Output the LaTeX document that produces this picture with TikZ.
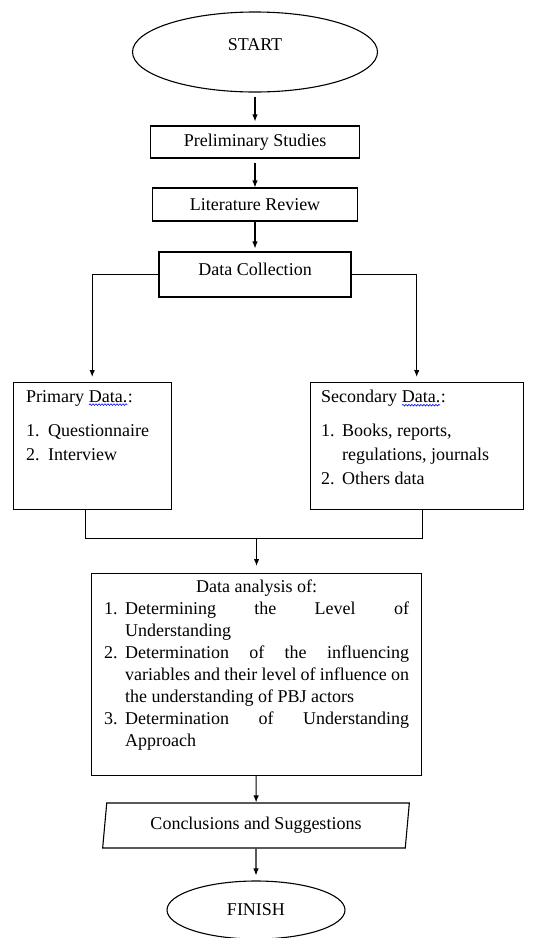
\documentclass[tikz,border=0pt]{standalone}
\usepackage{fontspec}
\setmainfont{Liberation Serif}
\usetikzlibrary{shapes.geometric,positioning,decorations.pathmorphing,arrows.meta}

% blue wavy mark under a word
\newcommand{\spellwave}[1]{\tikz[baseline=(sw.base)]{\node[inner sep=0pt, outer sep=0pt] (sw) {#1};
  \draw[blue, line width=0.6pt, decorate, decoration={snake, amplitude=0.8pt, segment length=3pt}]
    ([yshift=-2.5pt]sw.base west) -- ([yshift=-2.5pt]sw.base east);}}

\begin{document}
\begin{tikzpicture}[x=1pt, y=-1pt, >={Latex[length=7pt,width=5.5pt]}, line width=1.1pt,
  font=\fontsize{18}{22}\selectfont,
  box/.style={draw, rectangle, inner sep=0pt},
  terminal/.style={draw, ellipse, inner sep=0pt},
  io/.style={draw, trapezium, trapezium left angle=80, trapezium right angle=100,
    trapezium stretches=true, inner sep=0pt}]
\clip (0,0) rectangle (554,938);

% Start
\node[terminal, minimum width=245pt, minimum height=80pt, text depth=15pt] (start) at (255,52) {START};
% Studies
\node[box, minimum width=209pt, minimum height=32pt] (prelim) at (255,142) {Preliminary Studies};
\node[box, minimum width=205pt, minimum height=33pt] (litrev) at (255,204.5) {Literature Review};
% Collection
\node[box, minimum width=192pt, minimum height=45pt, text depth=11pt] (collect) at (255,274.5) {Data Collection};

% Data sources
\node[box, anchor=north west, inner xsep=13pt, inner ysep=8pt] (primary) at (13,382) {%
  \begin{minipage}[t][111pt][t]{132pt}\fontsize{18}{24}\selectfont
  Primary \spellwave{Data.}:\par\vspace{10pt}
  \makebox[22pt][l]{1.}Questionnaire\par
  \makebox[22pt][l]{2.}Interview
  \end{minipage}};
\node[box, anchor=north west, inner xsep=11pt, inner ysep=8pt] (secondary) at (310,382) {%
  \begin{minipage}[t][111pt][t]{191pt}\fontsize{18}{24}\selectfont
  Secondary \spellwave{Data.}:\par\vspace{10pt}
  \hangindent=21pt\hangafter=1\makebox[21pt][l]{1.}Books, reports,\\regulations, journals\par
  \makebox[21pt][l]{2.}Others data
  \end{minipage}};

% Analysis
\node[box, anchor=north west, minimum width=330pt, inner ysep=6pt] (analysis) at (91,573) {%
  \begin{minipage}[t][190pt][t]{305pt}
  {\centering Data analysis of:\par}
  \hangindent=21pt\hangafter=1\makebox[21pt][l]{1.}Determining the Level of\linebreak Understanding\par
  \hangindent=21pt\hangafter=1\makebox[21pt][l]{2.}Determination of the influencing\linebreak variables and their level of influence on\linebreak the understanding of PBJ actors\par
  \hangindent=21pt\hangafter=1\makebox[21pt][l]{3.}Determination of Understanding\linebreak Approach\par
  \end{minipage}};

% Output and end
\node[io, minimum width=307pt, minimum height=45pt] (concl) at (256,825.5) {Conclusions and Suggestions};
\node[terminal, minimum width=178pt, minimum height=58pt] (finish) at (256,910) {FINISH};

% Connections
\draw[->, shorten <=4pt, shorten >=4pt] (start) -- (prelim);
\draw[->, shorten <=4pt] (prelim) -- (litrev);
\draw[->, shorten >=3pt] (litrev) -- (collect);
\draw[->, shorten >=5pt] (collect.west) -| (primary.north);
\draw[->, shorten >=5pt] (collect.east) -| (secondary.north);

% Merge
\coordinate (merge) at ([yshift=-29pt]analysis.north |- primary.south);
\draw ([xshift=-7pt]primary.south) |- (merge) -| ([xshift=5.5pt]secondary.south);
\draw[->, shorten >=7pt] (merge) -- (analysis.north);
\draw[->] (analysis) -- (concl);
\draw[->, shorten >=5pt] (concl) -- (finish);
\end{tikzpicture}
\end{document}
